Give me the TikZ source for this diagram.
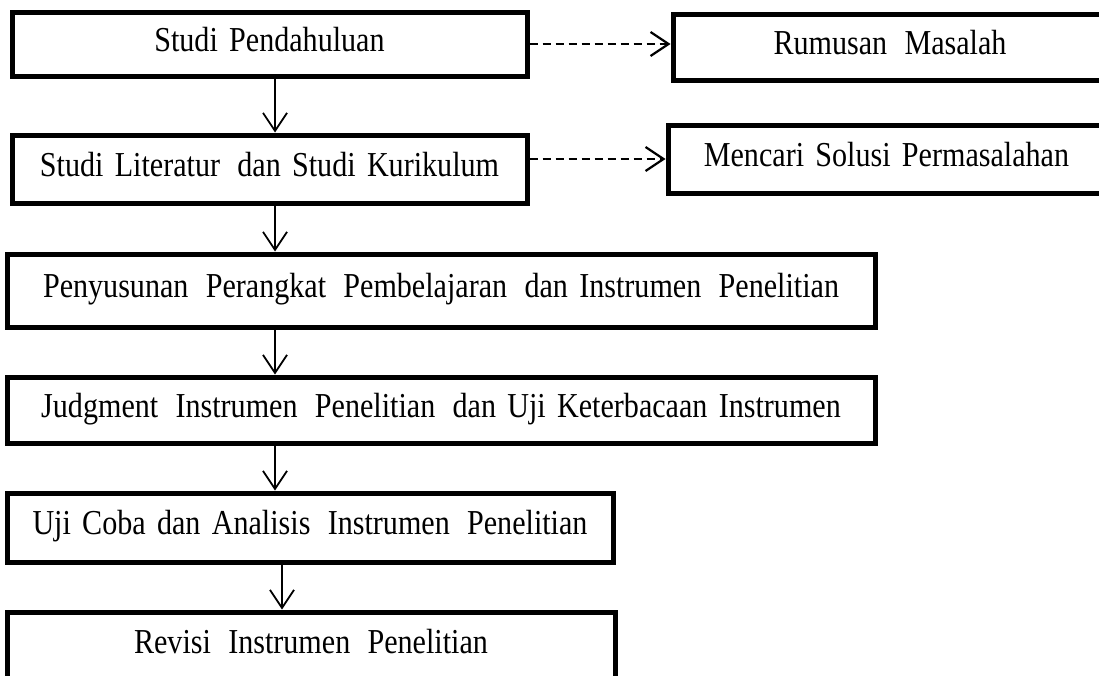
\documentclass[tikz,border=0pt]{standalone}
\usepackage{fontspec}
\setmainfont{Liberation Serif}[FakeStretch=0.86, WordSpace=1.5]
\usetikzlibrary{arrows.meta}
\newcommand{\wsp}{\hspace{6pt}}
\begin{document}
\begin{tikzpicture}[
    x=1pt, y=-1pt,
    every node/.style={font=\fontsize{35pt}{42pt}\selectfont, text height=23pt, text depth=9pt},
    stage/.style={draw, line width=5pt, inner sep=0pt},
    flow/.style={line width=1.8pt, -{Straight Barb[length=18pt, width=24pt]}},
    aside/.style={flow, line width=2.2pt, dash pattern=on 8pt off 5pt}
]
\useasboundingbox (0,0) rectangle (1099,675);
\node[stage, minimum width=515pt, minimum height=64pt] (pendahuluan) at (269.5,44) {Studi Pendahuluan};
\node[stage, minimum width=515pt, minimum height=68pt] (literatur) at (269.5,169) {Studi Literatur \wsp dan Studi Kurikulum};
\node[stage, minimum width=868pt, minimum height=73pt] (penyusunan) at (441,290.5) {Penyusunan \wsp Perangkat \wsp Pembelajaran \wsp dan Instrumen \wsp Penelitian};
\node[stage, minimum width=868pt, minimum height=66pt] (judgment) at (441,410) {Judgment \wsp Instrumen \wsp Penelitian \wsp dan Uji Keterbacaan Instrumen};
\node[stage, minimum width=606pt, minimum height=69pt] (ujicoba) at (310,527.5) {Uji Coba dan Analisis \wsp Instrumen \wsp Penelitian};
\node[stage, minimum width=608pt, minimum height=68pt] (revisi) at (311,646) {Revisi \wsp Instrumen \wsp Penelitian};
\node[stage, minimum width=434pt, minimum height=66pt] (rumusan) at (890,47) {Rumusan \wsp Masalah};
\node[stage, minimum width=437pt, minimum height=68pt] (solusi) at (886.5,159) {Mencari Solusi Permasalahan};
\coordinate (ax) at (275,0);
\coordinate (bx) at (282,0);
\draw[flow] (pendahuluan.south -| ax) -- (literatur.north -| ax);
\draw[flow] (literatur.south -| ax) -- (penyusunan.north -| ax);
\draw[flow] (penyusunan.south -| ax) -- (judgment.north -| ax);
\draw[flow] (judgment.south -| ax) -- (ujicoba.north -| ax);
\draw[flow] (ujicoba.south -| bx) -- (revisi.north -| bx);
\draw[aside] (pendahuluan.east) -- (pendahuluan.east -| rumusan.west);
\draw[aside] (solusi.west -| literatur.east) -- (solusi.west);
\end{tikzpicture}
\end{document}
